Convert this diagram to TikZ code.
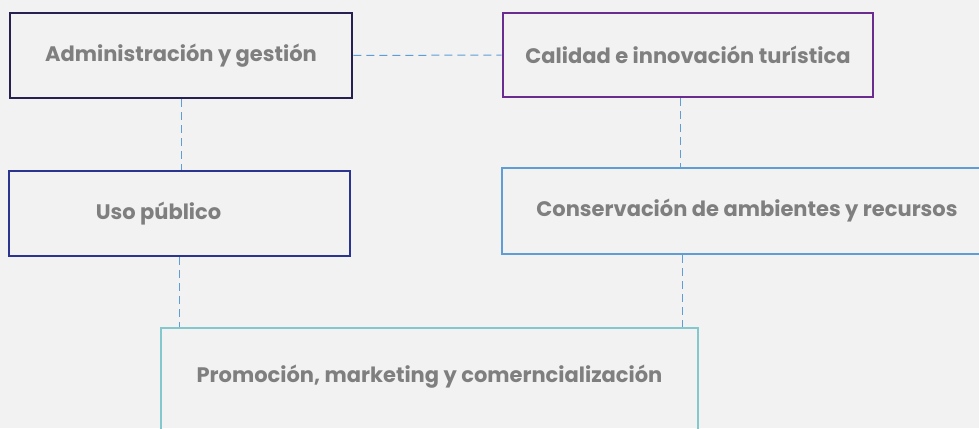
\documentclass[tikz,border=0pt]{standalone}
\usepackage{fontspec}
\setmainfont{Poppins}
\definecolor{fondo}{HTML}{F2F2F2}
\definecolor{texto}{HTML}{7F7F7F}
\definecolor{navy}{HTML}{262150}
\definecolor{morado}{HTML}{6A2C8E}
\definecolor{azul}{HTML}{2B358F}
\definecolor{celeste}{HTML}{5E9DD6}
\definecolor{turquesa}{HTML}{83C8CD}
\tikzset{
	letra/.style={font=\fontsize{21}{24}\selectfont\bfseries,text=texto},
	caja/.style={draw,line width=2.6pt,minimum width=#1,inner sep=0pt,letra},
	enlace/.style={draw=celeste,line width=1pt,dash pattern=on 8pt off 5pt}
}
\begin{document}
\begin{tikzpicture}[x=1pt,y=-1pt]
		\useasboundingbox (0,0) rectangle (979,428);
		\clip (0,0) rectangle (979,428);
		\fill[fondo] (0,0) rectangle (979,428);
		\node[caja=342pt,draw=navy,minimum height=85pt] (admin) at (181,55.5) {Administración y gestión};
		\node[caja=370pt,draw=morado,minimum height=84pt] (calidad) at (688,55) {Calidad e innovación turística};
		\node[caja=341pt,draw=azul,minimum height=85pt,
			label={[xshift=-21pt,letra]center:Uso público}] (uso) at (179.5,213.5) {};
		\node[caja=490pt,draw=celeste,minimum height=86pt] (cons) at (747,211) {Conservación de ambientes y recursos};
		\node[caja=537pt,draw=turquesa,minimum height=112pt,
			label={[yshift=7pt,letra]center:Promoción, marketing y comerncialización}] (promo) at (429.5,384) {};
		% conectores punteados
		\coordinate (c1) at ([xshift=-8pt]calidad.south);
		\coordinate (c2) at ([xshift=-65pt]cons.south);
		\path[enlace] (admin.east) -- (calidad.west);
		\path[enlace] (admin.south) -- (uso.north -| admin.south);
		\path[enlace] (uso.south) -- (uso.south |- promo.north);
		\path[enlace] (c1) -- (c1 |- cons.north);
		\path[enlace] (c2) -- (c2 |- promo.north);
		\end{tikzpicture}
\end{document}
